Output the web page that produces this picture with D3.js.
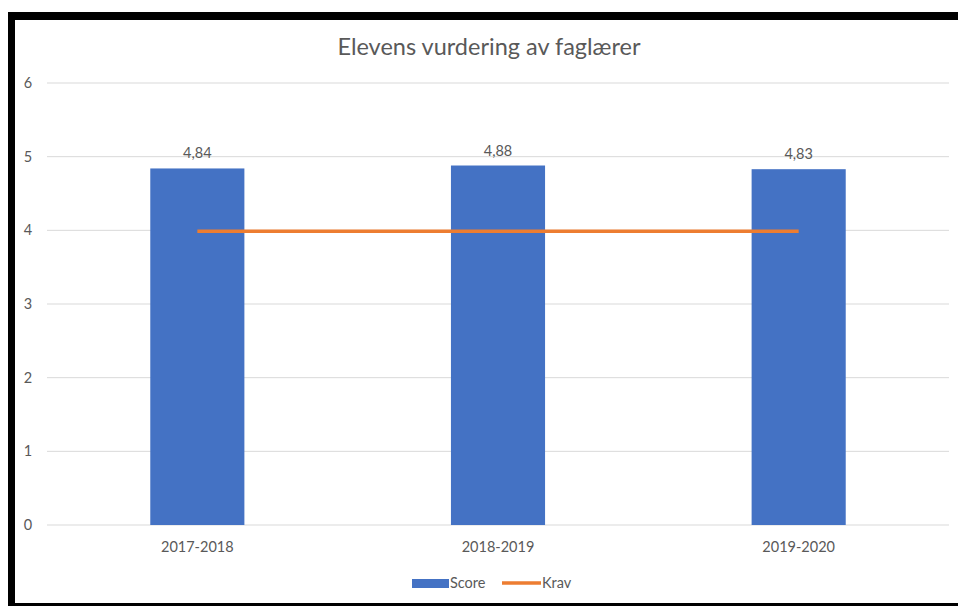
<!DOCTYPE html>
<html>
<head>
<meta charset="utf-8">
<script src="https://cdn.jsdelivr.net/npm/d3@7"></script>
<style>
  body { margin: 0; background: #fff; }
  text { font-family: Lato, "Open Sans", sans-serif; fill: #595959; }
</style>
</head>
<body>
<svg id="chart" width="958" height="606"></svg>
<script>
// chart data
var years = ["2017-2018", "2018-2019", "2019-2020"];
var score = [4.84, 4.88, 4.83];
var krav = [4, 4, 4];
var yTicks = [0, 1, 2, 3, 4, 5, 6];

var svg = d3.select("#chart");

// black frame around the screenshot
svg.append("rect").attr("x", 8).attr("y", 12).attr("width", 950).attr("height", 8).attr("fill", "#000");
svg.append("rect").attr("x", 8).attr("y", 12).attr("width", 7).attr("height", 594).attr("fill", "#000");
svg.append("rect").attr("x", 8).attr("y", 603).attr("width", 950).attr("height", 3).attr("fill", "#000");

// plot area (note: "top" is reserved on window, so use other names)
var plotLeft = 47, plotRight = 949, plotTop = 83, plotBottom = 525;

var x = d3.scaleBand().domain(years).range([plotLeft, plotRight]);
var y = d3.scaleLinear().domain([0, 6]).range([plotBottom, plotTop]);
var barW = x.bandwidth() * 0.313;

// gridlines
svg.append("g").selectAll("line").data(yTicks).enter().append("line")
  .attr("x1", plotLeft).attr("x2", plotRight)
  .attr("y1", function(d) { return y(d); })
  .attr("y2", function(d) { return y(d); })
  .attr("stroke", "#d9d9d9").attr("stroke-width", 1);

// y axis labels
svg.append("g").selectAll("text").data(yTicks).enter().append("text")
  .attr("x", 28).attr("y", function(d) { return y(d) + 5; })
  .attr("text-anchor", "middle").attr("font-size", 14.5)
  .text(function(d) { return d; });

// bars
svg.append("g").selectAll("rect").data(score).enter().append("rect")
  .attr("x", function(d, i) { return x(years[i]) + x.bandwidth() / 2 - barW / 2; })
  .attr("y", function(d) { return y(d); })
  .attr("width", barW)
  .attr("height", function(d) { return plotBottom - y(d); })
  .attr("fill", "#4472c4");

// data labels
svg.append("g").selectAll("text").data(score).enter().append("text")
  .attr("x", function(d, i) { return x(years[i]) + x.bandwidth() / 2; })
  .attr("y", function(d) { return y(d) - 10; })
  .attr("text-anchor", "middle").attr("font-size", 14.5)
  .text(function(d) { return d3.format(".2f")(d).replace(".", ","); });

// krav line
var line = d3.line()
  .x(function(d, i) { return x(years[i]) + x.bandwidth() / 2; })
  .y(function(d) { return y(d) + 1; });
svg.append("path").datum(krav)
  .attr("d", line).attr("fill", "none")
  .attr("stroke", "#ed7d31").attr("stroke-width", 3.5);

// category labels
svg.append("g").selectAll("text").data(years).enter().append("text")
  .attr("x", function(d) { return x(d) + x.bandwidth() / 2; })
  .attr("y", 552)
  .attr("text-anchor", "middle").attr("font-size", 14.5)
  .text(function(d) { return d; });

// title
svg.append("text").attr("x", 489).attr("y", 55)
  .attr("text-anchor", "middle").attr("font-size", 23.5)
  .text("Elevens vurdering av faglærer");

// legend
var lg = svg.append("g");
lg.append("rect").attr("x", 412).attr("y", 579).attr("width", 37).attr("height", 9).attr("fill", "#4472c4");
lg.append("text").attr("x", 450).attr("y", 588).attr("font-size", 14.5).text("Score");
lg.append("line").attr("x1", 502).attr("x2", 541).attr("y1", 583).attr("y2", 583)
  .attr("stroke", "#ed7d31").attr("stroke-width", 3.5);
lg.append("text").attr("x", 542).attr("y", 588).attr("font-size", 14.5).text("Krav");
</script>
</body>
</html>
